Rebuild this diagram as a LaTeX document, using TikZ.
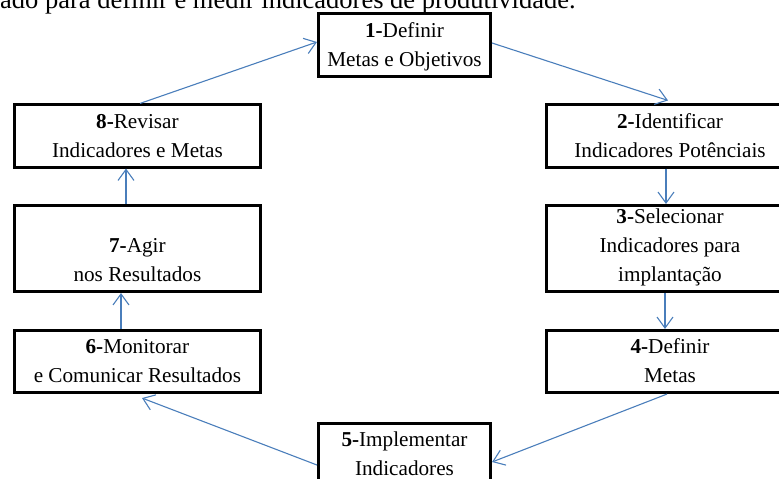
\documentclass[tikz,border=0pt]{standalone}
\usepackage{fontspec}
\setmainfont{Liberation Serif}
\usetikzlibrary{arrows.meta}
\definecolor{flowblue}{RGB}{74,126,187}
\begin{document}
\begin{tikzpicture}[x=1pt,y=-1pt,
  stepbox/.style={draw=black, line width=2.8pt, rectangle, align=center,
    inner sep=0pt, font=\fontsize{21.2}{29}\selectfont},
  wide/.style={minimum width=246.6pt},
  narrow/.style={minimum width=172.3pt},
  two/.style={minimum height=62.3pt, text height=44pt, text depth=2pt},
  three/.style={minimum height=86.3pt, text height=73pt, text depth=6.6pt},
  flow/.style={draw=flowblue, line width=1.1pt,
    -{Straight Barb[length=11pt,width=16pt,line width=1.1pt]}}]
\useasboundingbox (0,0) rectangle (779,479);
\clip (0,0) rectangle (779,479);

% heading line above the cycle
\node[anchor=base west, inner sep=0pt, font=\fontsize{26.5}{30}\selectfont]
  (head) at (0,9) {ado para definir e medir indicadores de produtividade.};

% steps of the cycle
\node[stepbox, narrow, two] (b1) at (404.5,45)  {\textbf{1-}Definir\\Metas e Objetivos};
\node[stepbox, wide, two]   (b2) at (670,136)   {\textbf{2-}Identificar\\Indicadores Potênciais};
\node[stepbox, wide, three] (b3) at (670,248.5) {\textbf{3-}Selecionar\\Indicadores para\\implantação};
\node[stepbox, wide, two]   (b4) at (670,361.5) {\textbf{4-}Definir\\Metas};
\node[stepbox, narrow, two] (b5) at (404.5,454.5) {\textbf{5-}Implementar\\Indicadores};
\node[stepbox, wide, two]   (b6) at (137.4,361.5) {\textbf{6-}Monitorar\\e Comunicar Resultados};
\node[stepbox, wide, three] (b7) at (137.4,248.5) {\mbox{}\\\textbf{7-}Agir\\nos Resultados};
\node[stepbox, wide, two]   (b8) at (137.4,136)   {\textbf{8-}Revisar\\Indicadores e Metas};

% connectors
\draw[flow] ([xshift=2.6pt]b8.north) -- ([yshift=3pt]b1.west);
\draw[flow] ([yshift=2pt]b1.east) -- ([xshift=-2pt,yshift=3pt]b2.north);
\draw[flow] ([xshift=-4pt]b2.south) -- ([xshift=-4pt]b3.north);
\draw[flow] ([xshift=-5pt]b3.south) -- ([xshift=-5pt]b4.north);
\draw[flow] ([xshift=-3pt]b4.south) -- ([yshift=-7.5pt]b5.east);
\draw[flow] ([yshift=-10.5pt]b5.west) -- ([xshift=4.6pt,yshift=-4pt]b6.south);
\draw[flow] ([xshift=-16.4pt]b6.north) -- ([xshift=-16.4pt]b7.south);
\draw[flow] ([xshift=-11.4pt]b7.north) -- ([xshift=-11.4pt]b8.south);
\end{tikzpicture}
\end{document}
